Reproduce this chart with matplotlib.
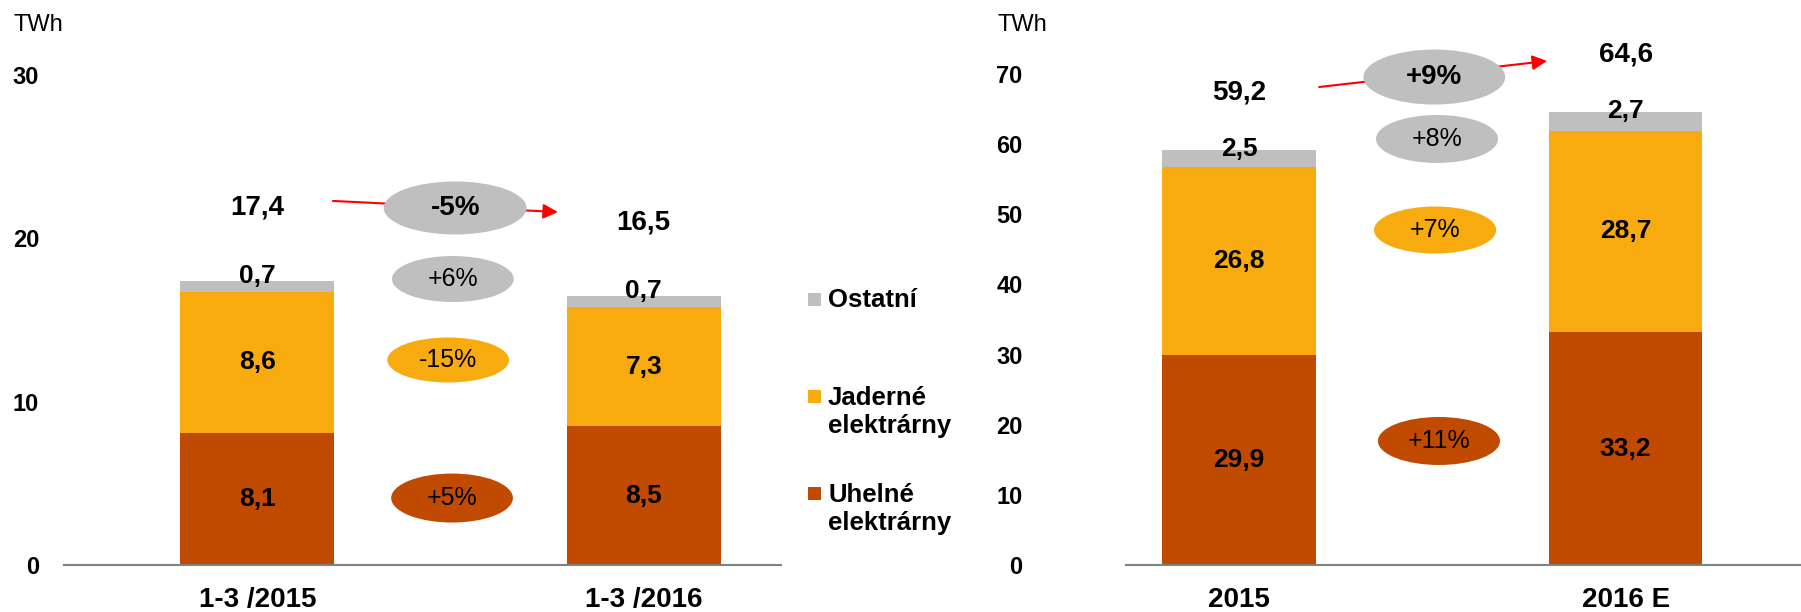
import matplotlib
matplotlib.use('Agg')
import matplotlib.pyplot as plt
from matplotlib.patches import Ellipse, Rectangle

plt.rcParams['font.family'] = ['Liberation Sans', 'DejaVu Sans']

# --- data -------------------------------------------------------------
kv_obdobi = ['1-3 /2015', '1-3 /2016']
kv_uhelne = [8.1, 8.5]
kv_jaderne = [8.6, 7.3]
kv_ostatni = [0.7, 0.7]
kv_celkem = [17.4, 16.5]
kv_zmeny = ['-5%', '+6%', '-15%', '+5%']   # celkem, ostatni, jaderne, uhelne
kv_ticks = [0, 10, 20, 30]

rok_obdobi = ['2015', '2016 E']
rok_uhelne = [29.9, 33.2]
rok_jaderne = [26.8, 28.7]
rok_ostatni = [2.5, 2.7]
rok_celkem = [59.2, 64.6]
rok_zmeny = ['+9%', '+8%', '+7%', '+11%']
rok_ticks = [0, 10, 20, 30, 40, 50, 60, 70]

legenda = ['Ostatní', 'Jaderné\nelektrárny', 'Uhelné\nelektrárny']

C_UH = '#C04A00'
C_JA = '#F8AB0E'
C_OS = '#BFBFBF'
C_AX = '#808080'

W, H = 1801, 612
fig = plt.figure(figsize=(W / 100, H / 100), dpi=100)


def carka(v):
    return f'{v:.1f}'.replace('.', ',')


def px_axes(l, r, bottom, top):
    return fig.add_axes([l / W, 1 - bottom / H, (r - l) / W, (bottom - top) / H])


def graf(ax, obdobi, uh, ja, os_, ticks, ymax, xmax, osa, pad):
    x = range(len(obdobi))
    sirka = 0.398
    b1 = ax.bar(x, uh, sirka, color=C_UH)
    b2 = ax.bar(x, ja, sirka, bottom=uh, color=C_JA)
    ax.bar(x, os_, sirka, bottom=[a + b for a, b in zip(uh, ja)], color=C_OS)
    ax.bar_label(b1, labels=[carka(v) for v in uh], label_type='center',
                 fontsize=19, fontweight='bold')
    ax.bar_label(b2, labels=[carka(v) for v in ja], label_type='center',
                 fontsize=19, fontweight='bold')
    ax.set_xlim(-0.5, xmax)
    ax.set_ylim(0, ymax)
    ax.set_yticks(ticks)
    ax.set_yticklabels([str(t) for t in ticks], fontsize=17, fontweight='bold')
    ax.set_xticks(list(x))
    ax.set_xticklabels(obdobi, fontsize=20, fontweight='bold')
    ax.tick_params(axis='y', length=0, pad=pad)
    ax.tick_params(axis='x', length=0, pad=16)
    for s in ['top', 'left', 'right']:
        ax.spines[s].set_visible(False)
    ax.spines['bottom'].set_color(C_AX)
    ax.spines['bottom'].set_linewidth(1.5)
    ax.spines['bottom'].set_bounds(*osa)
    ax.patch.set_alpha(0)


def bubliny(ax, zmeny, pozice, barvy, sipka):
    (x0, y0), (x1, y1) = sipka
    ax.annotate('', xy=(x1, y1), xytext=(x0, y0),
                arrowprops=dict(arrowstyle='-|>', color='red', lw=1.5,
                                mutation_scale=22, shrinkA=0, shrinkB=0),
                zorder=4, annotation_clip=False)
    for i, (txt, (ex, ey, ew, eh), c) in enumerate(zip(zmeny, pozice, barvy)):
        ax.add_patch(Ellipse((ex, ey), ew, eh, facecolor=c, edgecolor='none',
                             zorder=5, clip_on=False))
        ax.text(ex, ey, txt, ha='center', va='center', zorder=6,
                fontsize=20 if i == 0 else 18,
                fontweight='bold' if i == 0 else 'normal')


# --- levy graf (1. ctvrtleti) ----------------------------------------
ax1 = px_axes(64, 837, 565, 0)
graf(ax1, kv_obdobi, kv_uhelne, kv_jaderne, kv_ostatni,
     kv_ticks, 565 / 16.333, 1.5, (-0.5, 1.354), 18)
for i, t in enumerate(kv_celkem):
    ax1.text(i, t + 4.5, carka(t), ha='center', va='center',
             fontsize=20, fontweight='bold')
    ax1.text(i, t + 0.3, carka(kv_ostatni[i]), ha='center', va='center',
             fontsize=19, fontweight='bold')
bubliny(ax1, kv_zmeny,
        [(0.512, 21.86, 0.3695, 3.245), (0.506, 17.51, 0.315, 2.816),
         (0.494, 12.55, 0.315, 2.755), (0.504, 4.10, 0.315, 3.0)],
        [C_OS, C_OS, C_JA, C_UH],
        [(0.196, 22.29), (0.778, 21.61)])

# --- pravy graf (rok) ------------------------------------------------
ax2 = px_axes(1046, 1801, 565, 0)
graf(ax2, rok_obdobi, rok_uhelne, rok_jaderne, rok_ostatni,
     rok_ticks, 565 / 7.014, 1.454, (-0.292, 1.454), 17)
for i, t in enumerate(rok_celkem):
    ax2.text(i, t + 8.2, carka(t), ha='center', va='center',
             fontsize=20, fontweight='bold')
    ax2.text(i, t + 0.1, carka(rok_ostatni[i]), ha='center', va='center',
             fontsize=19, fontweight='bold')
bubliny(ax2, rok_zmeny,
        [(0.505, 69.57, 0.367, 7.84), (0.512, 60.74, 0.316, 6.84),
         (0.507, 47.76, 0.316, 6.7), (0.517, 17.68, 0.316, 6.84)],
        [C_OS, C_OS, C_JA, C_UH],
        [(0.207, 68.15), (0.797, 71.86)])

# --- jednotky ---------------------------------------------------------
fig.text(13 / W, 1 - 25 / H, 'TWh', fontsize=17, ha='left', va='center')
fig.text(997 / W, 1 - 25 / H, 'TWh', fontsize=17, ha='left', va='center')

# --- legenda ----------------------------------------------------------
for txt, c, ys, yt in zip(legenda, [C_OS, C_JA, C_UH], [299, 396, 493],
                          [300, 412, 509]):
    fig.add_artist(Rectangle((808 / W, 1 - (ys + 6.5) / H), 13 / W, 13 / H,
                             transform=fig.transFigure, facecolor=c,
                             edgecolor='none'))
    fig.text(828 / W, 1 - yt / H, txt, fontsize=18.5, fontweight='bold',
             ha='left', va='center', linespacing=1.2)

fig.savefig('out.png', dpi=100)
